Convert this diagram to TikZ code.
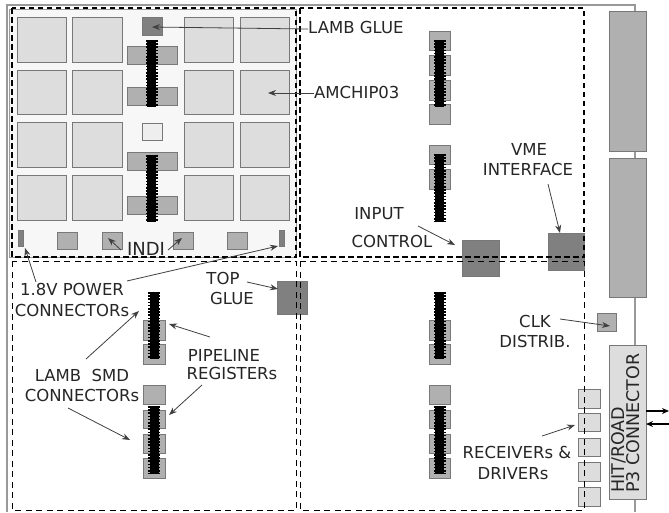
\documentclass[tikz,border=0pt]{standalone}
\usepackage{fontspec}
\setmainfont{DejaVu Sans}
\usetikzlibrary{arrows.meta}
\definecolor{chip}{HTML}{DDDDDD}
\definecolor{mid}{HTML}{B0B0B0}
\definecolor{dark}{HTML}{808080}
\definecolor{pale}{HTML}{EEEEEE}
\definecolor{edge}{HTML}{787878}
\tikzset{
  x=1pt,y=-1pt,
  part/.style={draw=edge,line width=1pt,inner sep=0pt,outer sep=0pt},
  chipbox/.style={part,fill=chip},
  midbox/.style={part,fill=mid},
  darkbox/.style={part,fill=dark},
  palebox/.style={part,fill=pale},
  zone/.style={draw=black,line width=1pt,dash pattern=on 6pt off 4.5pt},
  zonetop/.style={draw=black,line width=1.3pt,dash pattern=on 5.5pt off 3.5pt},
  board/.style={draw=gray!80,line width=1.1pt},
  lab/.style={font=\fontsize{16.5}{18}\selectfont,inner sep=0pt,align=center,text=black!85},
  call/.style={draw=black!75,line width=.8pt,-{Stealth[length=8pt,width=6pt]},shorten >=0pt},
  ptr/.style={draw=black,line width=1.2pt,-{Stealth[length=7pt,width=6pt]}},
}
% \bx{name}{x1}{y1}{x2}{y2}{style}
\newcommand{\bx}[6]{%
  \pgfmathsetmacro{\bxw}{#4-#2}\pgfmathsetmacro{\bxh}{#5-#3}%
  \pgfmathsetmacro{\bxcx}{(#2+#4)/2}\pgfmathsetmacro{\bxcy}{(#3+#5)/2}%
  \node[#6,minimum width=\bxw pt,minimum height=\bxh pt] (#1) at (\bxcx,\bxcy) {};}
% \strip{x}{y1}{y2}
\newcommand{\strip}[3]{%
  \draw[black,line width=9pt] (#1,#2) -- (#1,#3);
  \draw[black,line width=12pt,dash pattern=on 1.6pt off 1.6pt] (#1,#2) -- (#1,#3);}
\begin{document}
\begin{tikzpicture}
\useasboundingbox (0,0) rectangle (669,512);
\fill[white] (0,0) rectangle (669,512);
% board outline
\draw[board] (7,512) -- (7,5) -- (635,5) -- (635,512);
% top-left field
\fill[black!3] (9,9) rectangle (296,257);
\draw[board,line width=.8pt] (9,9) rectangle (296,257);
% chips
\foreach \r/\a/\b in {1/17/62,2/70/114,3/122/167,4/175/220}{
  \foreach \c/\l/\q in {1/17/66,2/72/122,3/184/233,4/240/289}{
    \bx{chip\r\c}{\l}{\a}{\q}{\b}{chipbox}
  }
}
\bx{lambglue}{142}{17}{162}{35}{darkbox}
\bx{pale}{142}{123}{162}{140}{palebox}
\bx{s1}{127}{46}{177}{64}{midbox}
\bx{s2}{127}{87}{177}{105}{midbox}
\bx{s3}{127}{152}{177}{170}{midbox}
\bx{s4}{127}{196}{177}{214}{midbox}
\strip{151.5}{40}{107}
\strip{151.5}{155}{222}
\bx{pl}{18}{230}{23}{246}{darkbox}
\bx{pr}{279}{230}{284}{246}{darkbox}
\bx{i1}{57}{232}{77}{249}{midbox}
\bx{i2}{102}{232}{122}{249}{midbox}
\bx{i3}{173}{232}{193}{249}{midbox}
\bx{i4}{227}{232}{247}{249}{midbox}
% top-right column
\bx{a1}{429}{31}{450}{50}{midbox}
\bx{a2}{429}{55}{450}{75}{midbox}
\bx{a3}{429}{80}{450}{100}{midbox}
\bx{a4}{429}{104}{450}{124}{midbox}
\bx{a5}{429}{145}{450}{164}{midbox}
\bx{a6}{429}{169}{450}{189}{midbox}
\strip{439.5}{40}{107}
\strip{439.5}{154}{222}
% bottom-left column
\bx{b1}{143}{320}{165}{340}{midbox}
\bx{b2}{143}{344}{165}{364}{midbox}
\bx{b3}{143}{385}{165}{404}{midbox}
\bx{b4}{143}{410}{165}{428}{midbox}
\bx{b5}{143}{434}{165}{453}{midbox}
\bx{b6}{143}{458}{165}{478}{midbox}
\strip{154}{292}{359}
\strip{154}{406}{474}
% bottom-right column
\bx{c1}{429}{320}{450}{340}{midbox}
\bx{c2}{429}{344}{450}{364}{midbox}
\bx{c3}{429}{385}{450}{404}{midbox}
\bx{c4}{429}{410}{450}{428}{midbox}
\bx{c5}{429}{434}{450}{453}{midbox}
\bx{c6}{429}{458}{450}{478}{midbox}
\strip{439.5}{292}{359}
\strip{439.5}{406}{474}
% glue and interface chips
\bx{topglue}{277}{281}{307}{314}{darkbox}
\bx{inputc}{462}{240}{499}{276}{darkbox}
\bx{vme}{548}{233}{584}{270}{darkbox}
\bx{clk}{597}{313}{616}{331}{midbox}
% receivers
\bx{r1}{578}{389}{600}{408}{chipbox}
\bx{r2}{578}{413}{600}{431}{chipbox}
\bx{r3}{578}{438}{600}{456}{chipbox}
\bx{r4}{578}{462}{600}{481}{chipbox}
\bx{r5}{578}{487}{600}{506}{chipbox}
% backplane connectors
\bx{j1}{609}{11}{646}{151}{midbox}
\bx{j2}{609}{158}{646}{297}{midbox}
\bx{j3}{609}{345}{646}{499}{chipbox}
\node[rotate=90,lab,font=\fontsize{17.5}{17}\selectfont,anchor=west] (j3t) at (628,493) {\begin{tabular}{@{}l@{}}HIT/ROAD\\[-3pt]P3 CONNECTOR\end{tabular}};
% dashed zones
\draw[zonetop] (12,8) rectangle (296,257);
\draw[zonetop] (300,8) rectangle (584,257);
\draw[zone] (12,261) rectangle (296,510);
\draw[zone] (300,261) rectangle (584,510);
% labels
\node[lab,anchor=west] (tlg) at (308,27) {LAMB GLUE};
\node[lab,anchor=west] (tam) at (314,92) {AMCHIP03};
\node[lab,font=\fontsize{18}{18}\selectfont] (tindi) at (146,249) {INDI};
\node[lab] (tpw1) at (72,289) {1.8V POWER};
\node[lab] (tpw2) at (72,310) {CONNECTORs};
\node[lab] (ttop) at (223,278) {TOP};
\node[lab] (tglue) at (232,298) {GLUE};
\node[lab] (tpip) at (224,355) {PIPELINE};
\node[lab] (treg) at (232,373) {REGISTERs};
\node[lab] (tsmd) at (82,375) {LAMB\ \ SMD};
\node[lab] (tcon) at (82,395) {CONNECTORs};
\node[lab] (tinp) at (379,214) {INPUT};
\node[lab] (tctl) at (392,241) {CONTROL};
\node[lab] (tvme) at (529,149) {VME};
\node[lab] (tint) at (528,169) {INTERFACE};
\node[lab] (tclk) at (535,321) {CLK};
\node[lab] (tdis) at (535,341) {DISTRIB.};
\node[lab] (trec) at (517,452) {RECEIVERs \&};
\node[lab] (tdrv) at (513,474) {DRIVERs};
% connector ends
\coordinate (e1) at (308,29); \coordinate (e2) at (152,27);
\coordinate (e3) at (314,93); \coordinate (e4) at (268,93);
\coordinate (e5) at (121,250); \coordinate (e6) at (108,238);
\coordinate (e7) at (168,250); \coordinate (e8) at (182,238);
\coordinate (e9) at (36,282); \coordinate (e10) at (25,248);
\coordinate (e11) at (127,281); \coordinate (e12) at (278,246);
\coordinate (e13) at (247,282); \coordinate (e14) at (278,289);
\coordinate (e15) at (86,359); \coordinate (e16) at (139,311);
\coordinate (e17) at (68,408); \coordinate (e18) at (130,440);
\coordinate (e19) at (210,337); \coordinate (e20) at (169,324);
\coordinate (e21) at (202,385); \coordinate (e22) at (169,415);
\coordinate (e23) at (418,226); \coordinate (e24) at (455,245);
\coordinate (e25) at (548,184); \coordinate (e26) at (560,233);
\coordinate (e27) at (560,319); \coordinate (e28) at (610,326);
\coordinate (e29) at (542,436); \coordinate (e30) at (575,425);
\coordinate (e31) at (646,411); \coordinate (e32) at (669,411);
\coordinate (e33) at (669,424); \coordinate (e34) at (646,424);
\foreach \s/\t in {e1/e2,e3/e4,e5/e6,e7/e8,e9/e10,e11/e12,e13/e14,e15/e16,e17/e18,e19/e20,e21/e22,e23/e24,e25/e26,e27/e28,e29/e30}
  \draw[call] (\s) -- (\t);
\draw[ptr] (e31) -- (e32);
\draw[ptr] (e33) -- (e34);
\end{tikzpicture}
\end{document}
